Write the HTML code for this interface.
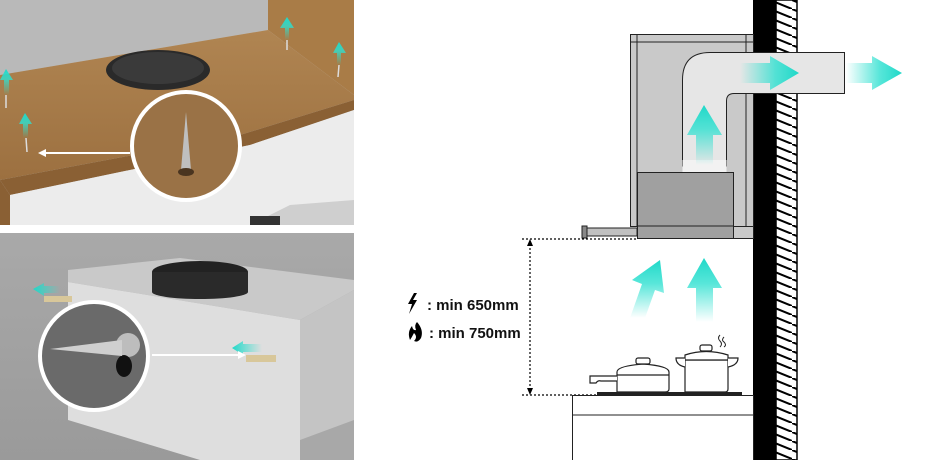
<!DOCTYPE html>
<html><head><meta charset="utf-8"><style>
body{margin:0;background:#fff;width:940px;height:460px;overflow:hidden}
svg{display:block}
text{font-family:"Liberation Sans",sans-serif;font-weight:bold}
</style></head><body>
<svg width="940" height="460" viewBox="0 0 940 460" xmlns="http://www.w3.org/2000/svg">
<defs>
<linearGradient id="gu" x1="0" y1="1" x2="0" y2="0"><stop offset="0" stop-color="#2ee0d0" stop-opacity="0"/><stop offset="0.6" stop-color="#2ee0d0" stop-opacity="0.8"/><stop offset="1" stop-color="#1fd8c8"/></linearGradient>
<linearGradient id="gr" x1="0" y1="0" x2="1" y2="0"><stop offset="0" stop-color="#2ee0d0" stop-opacity="0"/><stop offset="0.6" stop-color="#2ee0d0" stop-opacity="0.8"/><stop offset="1" stop-color="#1fd8c8"/></linearGradient>
<linearGradient id="gl" x1="1" y1="0" x2="0" y2="0"><stop offset="0" stop-color="#2ee0d0" stop-opacity="0"/><stop offset="1" stop-color="#1fd8c8"/></linearGradient>
<linearGradient id="wood" x1="0" y1="0" x2="0" y2="1"><stop offset="0" stop-color="#b08552"/><stop offset="1" stop-color="#9c7040"/></linearGradient>
<linearGradient id="bg2" x1="0" y1="0" x2="0" y2="1"><stop offset="0" stop-color="#a9a9a9"/><stop offset="1" stop-color="#9a9a9a"/></linearGradient>
<pattern id="hatch" width="22" height="9" patternUnits="userSpaceOnUse"><rect width="22" height="9" fill="#fff"/><line x1="0" y1="0" x2="22" y2="9" stroke="#000" stroke-width="2"/></pattern>
<clipPath id="c1"><circle cx="186" cy="146" r="54"/></clipPath>
<clipPath id="c2"><circle cx="94" cy="356" r="54"/></clipPath>
</defs>

<!-- TOP PHOTO -->
<rect x="0" y="0" width="354" height="225" fill="#c8c8c8"/>
<polygon points="0,0 268,0 268,30 0,75" fill="#b9b9b9"/>
<polygon points="268,0 354,0 354,95 268,30" fill="#a97c47"/>
<polygon points="0,75 268,30 354,95 354,100 240,135 0,180" fill="url(#wood)"/>
<polygon points="0,180 240,135 354,100 354,110 250,145 10,195" fill="#8a6034"/>
<polygon points="10,195 250,145 354,110 354,225 10,225" fill="#ececec"/>
<polygon points="0,180 10,195 10,225 0,225" fill="#8a6034"/>
<polygon points="250,225 290,205 354,200 354,225" fill="#cfcfcf"/>
<rect x="250" y="216" width="30" height="9" fill="#333"/>
<ellipse cx="158" cy="70" rx="52" ry="20" fill="#2a2a2a"/>
<ellipse cx="158" cy="68" rx="46" ry="16" fill="#3a3a3a"/>
<g fill="url(#gu)"><polygon points="287,17 280,28 285,28 285,40 289,40 289,28 294,28"/><polygon points="339,42 333,53 337,53 337,65 341,65 341,53 346,53"/><polygon points="6,69 0,80 4,80 4,95 9,95 9,80 13,80"/><polygon points="25,113 19,124 23,124 23,138 28,138 28,124 32,124"/></g>
<g stroke="#ddd" stroke-width="1.5"><line x1="287" y1="40" x2="287" y2="50"/><line x1="339" y1="65" x2="338" y2="77"/><line x1="6" y1="95" x2="6" y2="108"/><line x1="26" y1="138" x2="27" y2="152"/></g>
<line x1="44" y1="153" x2="130" y2="153" stroke="#fff" stroke-width="2"/>
<polygon points="38,153 46,149 46,157" fill="#fff"/>
<g clip-path="url(#c1)"><rect x="130" y="90" width="112" height="112" fill="#9a7246"/><polygon points="186,112 181,170 191,170" fill="#bfbfbf"/><ellipse cx="186" cy="172" rx="8" ry="4" fill="#4a3520"/></g>
<circle cx="186" cy="146" r="54" fill="none" stroke="#fff" stroke-width="4"/>

<!-- BOTTOM PHOTO -->
<rect x="0" y="233" width="354" height="227" fill="url(#bg2)"/>
<polygon points="68,270 180,258 354,280 354,290 300,320 68,282" fill="#c9c9c9"/>
<polygon points="68,282 300,320 300,460 200,460 68,420" fill="#dedede"/>
<polygon points="300,320 354,290 354,460 300,460" fill="#c4c4c4"/>
<polygon points="300,440 354,420 354,460 300,460" fill="#a8a8a8"/>
<ellipse cx="200" cy="272" rx="48" ry="11" fill="#222"/>
<rect x="152" y="272" width="96" height="20" fill="#2a2a2a"/>
<ellipse cx="200" cy="292" rx="48" ry="7" fill="#2a2a2a"/>
<rect x="44" y="296" width="28" height="6" fill="#d8c79a"/>
<rect x="246" y="355" width="30" height="7" fill="#d8c79a"/>
<polygon points="33,289 44,283 44,286 60,286 60,293 44,293 44,296" fill="url(#gl)"/>
<polygon points="232,348 243,341 243,344 262,344 262,352 243,352 243,355" fill="url(#gl)"/>
<line x1="152" y1="355" x2="240" y2="355" stroke="#fff" stroke-width="2"/>
<polygon points="246,355 238,351 238,359" fill="#fff"/>
<g clip-path="url(#c2)"><rect x="38" y="300" width="112" height="112" fill="#6a6a6a"/><circle cx="128" cy="345" r="12" fill="#bdbdbd"/><ellipse cx="124" cy="366" rx="8" ry="11" fill="#111"/><polygon points="50,349 122,340 122,356" fill="#cfcfcf"/></g>
<circle cx="94" cy="356" r="54" fill="none" stroke="#fff" stroke-width="4"/>

<!-- RIGHT DIAGRAM -->
<rect x="776" y="0" width="21" height="460" fill="url(#hatch)" stroke="#000" stroke-width="1.5"/>
<rect x="753" y="0" width="23" height="460" fill="#000"/>
<rect x="630.5" y="34.5" width="123" height="192" fill="#c9c9c9" stroke="#222"/>
<line x1="637" y1="34" x2="637" y2="226" stroke="#222"/>
<line x1="630" y1="42" x2="753" y2="42" stroke="#222"/>
<line x1="746" y1="34" x2="746" y2="226" stroke="#222"/>
<path d="M682.5,166 V80 Q682.5,52.5 710,52.5 H844.5 V93.5 H734 Q726.5,93.5 726.5,101 V166 Z" fill="#e6e6e6" stroke="#222"/>
<rect x="682.5" y="160" width="44" height="12" fill="#f2f2f2"/>
<rect x="637.5" y="172.5" width="96" height="66" fill="#a0a0a0" stroke="#222"/>
<line x1="637" y1="226" x2="733" y2="226" stroke="#222"/>
<rect x="733.5" y="226.5" width="20" height="12" fill="#c9c9c9" stroke="#222"/>
<rect x="583" y="228" width="54" height="8" fill="#c0c0c0" stroke="#222"/>
<rect x="582" y="226" width="5" height="12" fill="#888" stroke="#222"/>
<!-- airflow arrows -->
<g fill="url(#gr)"><polygon points="740,63 770,63 770,56 799,73 770,90 770,83 740,83"/><polygon points="846,63 872,63 872,56 902,73 872,90 872,83 846,83"/></g>
<g fill="url(#gu)"><polygon points="704,105 687,135 696,135 696,165 713,165 713,135 722,135"/><polygon points="704,258 687,288 696,288 696,322 713,322 713,288 722,288"/></g>
<polygon points="660,260 632,280 642,284 630,318 645,318 655,290 664,293" fill="url(#gu)"/>
<!-- dimension -->
<g stroke="#000" stroke-width="1.2" stroke-dasharray="2,2"><line x1="522" y1="239" x2="637" y2="239"/><line x1="522" y1="395" x2="600" y2="395"/><line x1="530" y1="244" x2="530" y2="390"/></g>
<polygon points="530,239 527,246 533,246" fill="#000"/><polygon points="530,395 527,388 533,388" fill="#000"/>
<polygon points="414,293 408,304 412,304 409,314 417,300 413,300 417,293" fill="#000"/>
<path d="M410,340 Q407,332 412,326 Q413,331 416,330 Q414,325 417,322 Q424,330 421,338 Q418,343 414,341 Q418,337 414,333 Q412,337 410,340Z" fill="#000"/>
<text x="427" y="310" font-size="15" fill="#111">: min 650mm</text>
<text x="429" y="338" font-size="15" fill="#111">: min 750mm</text>
<!-- countertop -->
<rect x="572.5" y="395.5" width="181" height="70" fill="#fff" stroke="#222"/>
<line x1="572" y1="415" x2="753" y2="415" stroke="#222"/>
<rect x="597" y="392" width="145" height="4" fill="#222"/>
<!-- pots -->
<g fill="#fff" stroke="#222" stroke-width="1.2">
<path d="M617,392 V372 Q617,366 643,364 Q669,366 669,372 V389 Q669,392 665,392 Z"/>
<line x1="617" y1="375" x2="669" y2="375"/>
<rect x="636" y="358" width="14" height="6" rx="2"/>
<path d="M617,376 H590 V383 H596 Q598,380 601,381 H617"/>
<path d="M685,392 V360 H728 V389 Q728,392 725,392 Z"/>
<path d="M685,355 Q706,348 728,355 V360 H685Z"/>
<rect x="700" y="345" width="12" height="6" rx="2"/>
<path d="M685,358 H676 Q676,365 685,367"/><path d="M728,358 H738 Q738,365 728,367"/>
</g>
<path d="M720,335 q-3,3 0,6 q3,3 0,6 M724,337 q-3,3 0,5 q3,3 0,5" fill="none" stroke="#222"/>
</svg>
</body></html>
